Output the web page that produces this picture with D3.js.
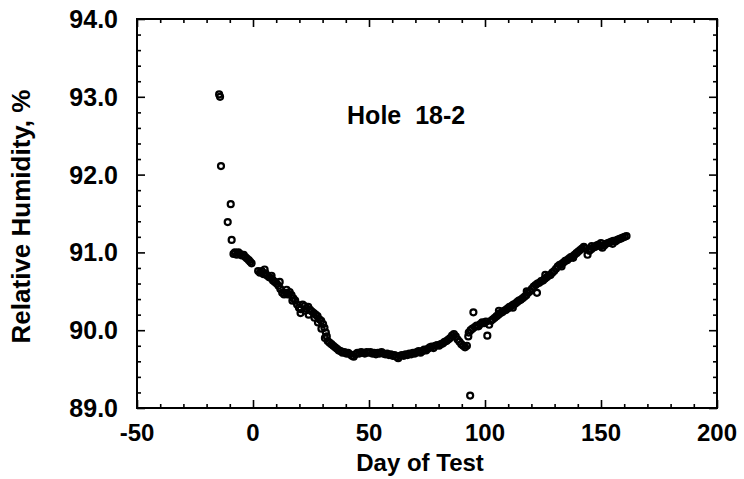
<!DOCTYPE html>
<html>
<head>
<meta charset="utf-8">
<script src="https://cdnjs.cloudflare.com/ajax/libs/d3/7.8.5/d3.min.js"></script>
<style>
  body { margin: 0; background: #fff; }
  text { font-family: "Liberation Sans", Arial, sans-serif; font-weight: bold; fill: #000; }
</style>
</head>
<body>
<div id="chart"></div>
<script>
// x ticks and y ticks
var xTicks = [-50, 0, 50, 100, 150, 200];
var yTicks = [89.0, 90.0, 91.0, 92.0, 93.0, 94.0];

// day of test
var dayOfTest = [
  -14.6, -14.2, -13.8, -9.6, -10.9, -9.2,
  -8.4, -7.8, -7.0, -6.3, -5.6, -4.8, -4.0, -3.3, -2.6, -1.8, -1.2, -0.6,
  2.2, 3.0, 3.8, 4.6, 5.4, 6.2, 7.0, 7.8, 8.6, 9.4,
  10.2, 11.0, 11.8, 12.6, 13.4, 14.2, 15.0, 15.8, 16.6, 17.4,
  18.2, 19.0, 19.8, 20.6, 21.4, 22.2, 23.0, 23.8, 24.6, 25.4,
  26.2, 27.0, 27.8, 28.6, 29.4, 30.2, 30.8, 31.4, 31.8, 32.2,
  33.0, 33.8, 34.6, 35.4, 36.2, 37.0, 37.8, 38.6, 39.4, 40.2,
  41.0, 41.8, 42.6, 43.4, 44.2, 45.0, 45.8, 46.6, 47.4, 48.2,
  49.0, 49.8, 50.6, 51.4, 52.2, 53.0, 53.8, 54.6, 55.4, 56.2,
  57.0, 57.8, 58.6, 59.4, 60.2, 61.0, 61.8, 62.6, 63.4, 64.2,
  65.0, 65.8, 66.6, 67.4, 68.2, 69.0, 69.8, 70.6, 71.4, 72.2,
  73.0, 73.8, 74.6, 75.4, 76.2, 77.0, 77.8, 78.6, 79.4, 80.2,
  81.0, 81.8, 82.6, 83.4, 84.2, 85.0, 85.8, 86.6, 87.4, 88.2,
  89.0, 89.8, 90.6, 91.4, 92.2,
  93.0, 93.8, 95.0, 93.6, 94.6, 95.6, 96.4, 97.2, 98.0, 98.8,
  99.6, 100.4, 101.0, 101.8, 102.6, 103.4, 104.2, 105.0, 105.8, 106.6,
  107.4, 108.2, 109.0, 109.8, 110.6, 111.4, 112.2, 113.0, 113.8, 114.6,
  115.4, 116.2, 117.0, 117.8, 118.6, 119.4, 120.2, 121.0, 121.8, 122.4,
  122.6, 123.4, 124.2, 125.0, 125.8, 126.6, 127.4, 128.2, 129.0, 129.8,
  130.6, 131.4, 132.2, 133.0, 133.8, 134.6, 135.4, 136.2, 137.0, 137.8,
  138.6, 139.4, 140.2, 141.0, 141.8, 142.6, 143.4, 144.2, 145.0, 145.8,
  146.6, 147.4, 148.2, 149.0, 149.8, 150.6, 151.4, 152.2, 153.0, 153.8,
  154.6, 155.4, 156.2, 157.0, 157.8, 158.6, 159.4, 160.2, 161.0,
  5.0, 8.0, 11.5, 14.5, 17.0, 20.5, 22.5, 24.0, 26.5, 28.0,
  29.5, 31.0, 92.8, 106.0, 112.0, 118.0, 126.0, 133.0, 138.0, 146.0,
  150.0, 155.0
];

// relative humidity, %
var humidity = [
  93.03, 93.00, 92.11, 91.62, 91.39, 91.16,
  90.98, 91.00, 90.97, 91.00, 90.98, 90.96, 90.97, 90.94, 90.92, 90.90, 90.88, 90.86,
  90.76, 90.74, 90.76, 90.72, 90.73, 90.70, 90.68, 90.67, 90.64, 90.62,
  90.60, 90.57, 90.53, 90.48, 90.46, 90.48, 90.46, 90.49, 90.45, 90.41,
  90.38, 90.33, 90.29, 90.27, 90.33, 90.31, 90.28, 90.30, 90.26, 90.24,
  90.22, 90.20, 90.18, 90.14, 90.12, 90.08, 90.03, 89.97, 89.92, 89.86,
  89.84, 89.82, 89.80, 89.78, 89.76, 89.74, 89.73, 89.71, 89.72, 89.70,
  89.71, 89.69, 89.67, 89.66, 89.69, 89.71, 89.70, 89.72, 89.71, 89.70,
  89.72, 89.71, 89.72, 89.70, 89.71, 89.69, 89.71, 89.70, 89.72, 89.70,
  89.69, 89.70, 89.68, 89.69, 89.67, 89.68, 89.66, 89.64, 89.67, 89.68,
  89.67, 89.69, 89.68, 89.70, 89.69, 89.71, 89.70, 89.72, 89.73, 89.71,
  89.73, 89.75, 89.74, 89.76, 89.78, 89.79, 89.77, 89.80, 89.81, 89.80,
  89.82, 89.83, 89.85, 89.86, 89.88, 89.90, 89.93, 89.95, 89.92, 89.88,
  89.85, 89.82, 89.80, 89.78, 89.80,
  89.97, 90.00, 90.23, 89.16, 90.02, 90.04, 90.06, 90.05, 90.08, 90.10,
  90.09, 90.11, 89.93, 90.07, 90.12, 90.14, 90.16, 90.18, 90.20, 90.22,
  90.23, 90.25, 90.26, 90.28, 90.30, 90.31, 90.33, 90.34, 90.36, 90.38,
  90.39, 90.41, 90.43, 90.45, 90.48, 90.50, 90.53, 90.56, 90.58, 90.48,
  90.60, 90.61, 90.63, 90.64, 90.66, 90.68, 90.70, 90.71, 90.74, 90.76,
  90.79, 90.82, 90.84, 90.85, 90.87, 90.89, 90.90, 90.92, 90.94, 90.95,
  90.97, 90.99, 91.01, 91.03, 91.05, 91.07, 91.05, 90.97, 91.02, 91.04,
  91.06, 91.07, 91.09, 91.10, 91.08, 91.06, 91.09, 91.11, 91.12, 91.13,
  91.14, 91.15, 91.14, 91.16, 91.17, 91.18, 91.19, 91.20, 91.21,
  90.78, 90.70, 90.62, 90.52, 90.38, 90.22, 90.25, 90.20, 90.16, 90.10,
  90.02, 89.90, 89.92, 90.25, 90.29, 90.50, 90.71, 90.82, 90.93, 91.08,
  91.12, 91.11
];

var svgWidth = 744;
var svgHeight = 479;

var margin = { top: 19, right: 27, bottom: 71, left: 137 };
var width = svgWidth - margin.left - margin.right;
var height = svgHeight - margin.top - margin.bottom;

var svg = d3.select("#chart")
  .append("svg")
  .attr("width", svgWidth)
  .attr("height", svgHeight);

var chartGroup = svg.append("g")
  .attr("transform", `translate(${margin.left}, ${margin.top})`);

var x = d3.scaleLinear().domain([-50, 200]).range([0, width]);
var y = d3.scaleLinear().domain([89, 94]).range([height, 0]);

var data = dayOfTest.map((d, i) => ({ day: d, rh: humidity[i] }));

// minor ticks every 10 days / 0.2 %
var xMinor = d3.range(-50, 201, 10).filter(d => xTicks.indexOf(d) < 0);
var yMinor = d3.range(0, 26).map(i => 89 + i * 0.2).filter(d => Math.abs(d - Math.round(d)) > 0.01);

function styleAxis(g) {
  g.select(".domain").remove();
  g.selectAll("line").attr("stroke", "#000").attr("stroke-width", 1.6);
}

// bottom
chartGroup.append("g")
  .attr("transform", `translate(0, ${height})`)
  .call(d3.axisBottom(x).tickValues(xTicks).tickSize(-8).tickFormat(""))
  .call(styleAxis);
chartGroup.append("g")
  .attr("transform", `translate(0, ${height})`)
  .call(d3.axisBottom(x).tickValues(xMinor).tickSize(-4).tickFormat(""))
  .call(styleAxis);
// top
chartGroup.append("g")
  .call(d3.axisTop(x).tickValues(xTicks).tickSize(-8).tickFormat(""))
  .call(styleAxis);
chartGroup.append("g")
  .call(d3.axisTop(x).tickValues(xMinor).tickSize(-4).tickFormat(""))
  .call(styleAxis);
// left
chartGroup.append("g")
  .call(d3.axisLeft(y).tickValues(yTicks).tickSize(-8).tickFormat(""))
  .call(styleAxis);
chartGroup.append("g")
  .call(d3.axisLeft(y).tickValues(yMinor).tickSize(-4).tickFormat(""))
  .call(styleAxis);
// right
chartGroup.append("g")
  .attr("transform", `translate(${width}, 0)`)
  .call(d3.axisRight(y).tickValues(yTicks).tickSize(-8).tickFormat(""))
  .call(styleAxis);
chartGroup.append("g")
  .attr("transform", `translate(${width}, 0)`)
  .call(d3.axisRight(y).tickValues(yMinor).tickSize(-4).tickFormat(""))
  .call(styleAxis);

// frame
chartGroup.append("rect")
  .attr("width", width)
  .attr("height", height)
  .attr("fill", "none")
  .attr("stroke", "#000")
  .attr("stroke-width", 2);

// tick labels
chartGroup.selectAll(".xlab")
  .data(xTicks)
  .enter()
  .append("text")
  .attr("x", d => x(d))
  .attr("y", height + 33)
  .attr("text-anchor", "middle")
  .style("font-size", "24px")
  .text(d => d);

chartGroup.selectAll(".ylab")
  .data(yTicks)
  .enter()
  .append("text")
  .attr("x", -19)
  .attr("y", d => y(d))
  .attr("dy", "0.36em")
  .attr("text-anchor", "end")
  .style("font-size", "25px")
  .text(d => d.toFixed(1));

// axis titles
chartGroup.append("text")
  .attr("x", x(72))
  .attr("y", height + 63)
  .attr("text-anchor", "middle")
  .style("font-size", "24px")
  .text("Day of Test");

chartGroup.append("text")
  .attr("transform", "rotate(-90)")
  .attr("x", -(height / 2 + 3))
  .attr("y", -margin.left + 30)
  .attr("text-anchor", "middle")
  .style("font-size", "26px")
  .text("Relative Humidity, %");

// label
chartGroup.append("text")
  .attr("x", x(66))
  .attr("y", y(92.65))
  .attr("text-anchor", "middle")
  .style("font-size", "25px")
  .style("white-space", "pre")
  .text("Hole  18-2");

// points
chartGroup.append("g")
  .selectAll("circle")
  .data(data)
  .enter()
  .append("circle")
  .attr("cx", d => x(d.day))
  .attr("cy", d => y(d.rh))
  .attr("r", 3.0)
  .attr("fill", "none")
  .attr("stroke", "#000")
  .attr("stroke-width", 2.2);
</script>
</body>
</html>
